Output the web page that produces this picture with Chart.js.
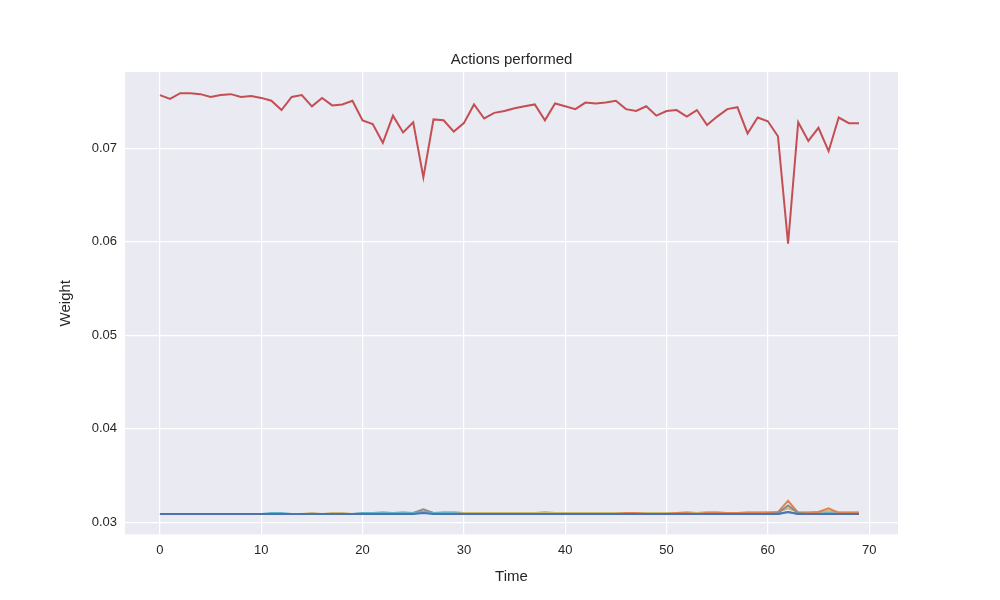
<!DOCTYPE html>
<html>
<head>
<meta charset="utf-8">
<script src="https://cdn.jsdelivr.net/npm/chart.js@4"></script>
<style>
  body { margin: 0; background: #fff; }
  #wrap { width: 1000px; height: 600px; }
</style>
</head>
<body>
<div id="wrap"><canvas id="c" width="1000" height="600"></canvas></div>
<script>
const steps = Array.from({ length: 70 }, (_, i) => i);

const xTicks = [0, 10, 20, 30, 40, 50, 60, 70];
const yTicks = [0.03, 0.04, 0.05, 0.06, 0.07];

// red series (the top one)
const redValues = [
  0.0757, 0.0753, 0.0759, 0.0759, 0.0758, 0.0755, 0.0757, 0.0758, 0.0755, 0.0756,
  0.0754, 0.0751, 0.0741, 0.0755, 0.0757, 0.0745, 0.0754, 0.0746, 0.0747, 0.0751,
  0.0730, 0.0726, 0.0706, 0.0735, 0.0717, 0.0728, 0.0669, 0.0731, 0.0730, 0.0718,
  0.0727, 0.0747, 0.0732, 0.0738, 0.0740, 0.0743, 0.0745, 0.0747, 0.0730, 0.0748,
  0.0745, 0.0742, 0.0749, 0.0748, 0.0749, 0.0751, 0.0742, 0.0740, 0.0745, 0.0735,
  0.0740, 0.0741, 0.0734, 0.0741, 0.0725, 0.0734, 0.0742, 0.0744, 0.0716, 0.0733,
  0.0729, 0.0713, 0.0598, 0.0728, 0.0708, 0.0722, 0.0697, 0.0733, 0.0727, 0.0727
];

// low series, all hugging 0.0309
const oliveValues = [
  0.0309, 0.0309, 0.0309, 0.0309, 0.0309, 0.0309, 0.0309, 0.0309, 0.0309, 0.0309,
  0.0309, 0.0309, 0.0309, 0.0309, 0.0309, 0.0310, 0.0309, 0.0310, 0.0310, 0.0309,
  0.0310, 0.0310, 0.0311, 0.0310, 0.0311, 0.0310, 0.0311, 0.0310, 0.0311, 0.0311,
  0.0310, 0.0310, 0.0310, 0.0310, 0.0310, 0.0310, 0.0310, 0.0310, 0.0311, 0.0310,
  0.0310, 0.0310, 0.0310, 0.0310, 0.0310, 0.0310, 0.0310, 0.0310, 0.0310, 0.0310,
  0.0310, 0.0310, 0.0311, 0.0310, 0.0311, 0.0311, 0.0310, 0.0310, 0.0311, 0.0311,
  0.0311, 0.0311, 0.0315, 0.0311, 0.0311, 0.0311, 0.0312, 0.0311, 0.0311, 0.0311
];
const orangeValues = [
  0.0309, 0.0309, 0.0309, 0.0309, 0.0309, 0.0309, 0.0309, 0.0309, 0.0309, 0.0309,
  0.0309, 0.0309, 0.0309, 0.0309, 0.0309, 0.0309, 0.0309, 0.0309, 0.0309, 0.0309,
  0.0309, 0.0310, 0.0310, 0.0310, 0.0310, 0.0310, 0.0311, 0.0310, 0.0310, 0.0310,
  0.0309, 0.0309, 0.0309, 0.0309, 0.0309, 0.0309, 0.0309, 0.0309, 0.0309, 0.0309,
  0.0309, 0.0309, 0.0309, 0.0309, 0.0309, 0.0309, 0.0310, 0.0310, 0.0309, 0.0309,
  0.0309, 0.0310, 0.0310, 0.0309, 0.0310, 0.0310, 0.0310, 0.0310, 0.0310, 0.0310,
  0.0310, 0.0311, 0.0323, 0.0310, 0.0310, 0.0311, 0.0315, 0.0310, 0.0310, 0.0310
];
const grayValues = [
  0.0309, 0.0309, 0.0309, 0.0309, 0.0309, 0.0309, 0.0309, 0.0309, 0.0309, 0.0309,
  0.0309, 0.0309, 0.0309, 0.0309, 0.0309, 0.0309, 0.0309, 0.0309, 0.0309, 0.0309,
  0.0309, 0.0309, 0.0309, 0.0309, 0.0309, 0.0310, 0.0314, 0.0310, 0.0309, 0.0309,
  0.0309, 0.0309, 0.0309, 0.0309, 0.0309, 0.0309, 0.0309, 0.0309, 0.0309, 0.0309,
  0.0309, 0.0309, 0.0309, 0.0309, 0.0309, 0.0309, 0.0309, 0.0309, 0.0309, 0.0309,
  0.0309, 0.0309, 0.0309, 0.0309, 0.0309, 0.0309, 0.0309, 0.0309, 0.0309, 0.0309,
  0.0309, 0.0310, 0.0318, 0.0310, 0.0309, 0.0309, 0.0310, 0.0309, 0.0309, 0.0309
];
const cyanValues = [
  0.0309, 0.0309, 0.0309, 0.0309, 0.0309, 0.0309, 0.0309, 0.0309, 0.0309, 0.0309,
  0.0309, 0.0310, 0.0310, 0.0309, 0.0309, 0.0309, 0.0309, 0.0309, 0.0309, 0.0309,
  0.0310, 0.0310, 0.0310, 0.0310, 0.0310, 0.0310, 0.0311, 0.0310, 0.0310, 0.0310,
  0.0309, 0.0309, 0.0309, 0.0309, 0.0309, 0.0309, 0.0309, 0.0309, 0.0309, 0.0309,
  0.0309, 0.0309, 0.0309, 0.0309, 0.0309, 0.0309, 0.0309, 0.0309, 0.0309, 0.0309,
  0.0309, 0.0309, 0.0309, 0.0309, 0.0309, 0.0309, 0.0309, 0.0309, 0.0309, 0.0309,
  0.0309, 0.0309, 0.0311, 0.0309, 0.0309, 0.0309, 0.0310, 0.0309, 0.0309, 0.0309
];
const blueValues = [
  0.0309, 0.0309, 0.0309, 0.0309, 0.0309, 0.0309, 0.0309, 0.0309, 0.0309, 0.0309,
  0.0309, 0.0309, 0.0309, 0.0309, 0.0309, 0.0309, 0.0309, 0.0309, 0.0309, 0.0309,
  0.0309, 0.0309, 0.0309, 0.0309, 0.0309, 0.0309, 0.0310, 0.0309, 0.0309, 0.0309,
  0.0309, 0.0309, 0.0309, 0.0309, 0.0309, 0.0309, 0.0309, 0.0309, 0.0309, 0.0309,
  0.0309, 0.0309, 0.0309, 0.0309, 0.0309, 0.0309, 0.0309, 0.0309, 0.0309, 0.0309,
  0.0309, 0.0309, 0.0309, 0.0309, 0.0309, 0.0309, 0.0309, 0.0309, 0.0309, 0.0309,
  0.0309, 0.0309, 0.0311, 0.0309, 0.0309, 0.0309, 0.0309, 0.0309, 0.0309, 0.0309
];

// first dataset is drawn on top in Chart.js
const seriesList = [
  { data: redValues, color: "#c44e52" },
  { data: blueValues, color: "#4c72b0" },
  { data: cyanValues, color: "#64b5cd" },
  { data: grayValues, color: "#8c8c8c" },
  { data: orangeValues, color: "#dd8452" },
  { data: oliveValues, color: "#ccb974" }
];

const FONT = "'Liberation Sans', Arial, sans-serif";
const TEXT = "#262626";

const plotBg = {
  id: "plotBg",
  beforeDraw(chart) {
    const a = chart.chartArea;
    const ctx = chart.ctx;
    ctx.save();
    ctx.fillStyle = "#eaeaf2";
    ctx.fillRect(a.left, a.top, a.right - a.left, a.bottom - a.top);
    ctx.restore();
  },
  afterDraw(chart) {
    const a = chart.chartArea;
    const ctx = chart.ctx;
    ctx.save();
    ctx.fillStyle = TEXT;
    ctx.font = "15px " + FONT;
    ctx.textAlign = "center";
    ctx.textBaseline = "alphabetic";
    ctx.fillText("Actions performed", (a.left + a.right) / 2, 64);
    ctx.restore();
  }
};

new Chart(document.getElementById("c"), {
  type: "line",
  data: {
    datasets: seriesList.map((s) => ({
      data: s.data.map((v, i) => ({ x: steps[i], y: v })),
      borderColor: s.color,
      borderWidth: 2,
      pointRadius: 0,
      tension: 0
    }))
  },
  options: {
    responsive: false,
    animation: false,
    layout: { padding: { left: 57, right: 102, top: 72, bottom: 0 } },
    plugins: {
      legend: { display: false },
      tooltip: { enabled: false },
      title: { display: false }
    },
    scales: {
      x: {
        type: "linear",
        min: -3.45,
        max: 72.85,
        afterBuildTicks: (ax) => { ax.ticks = xTicks.map((v) => ({ value: v })); },
        grid: { color: "#ffffff", lineWidth: 1.2, drawTicks: false },
        border: { display: false },
        ticks: { color: TEXT, font: { family: FONT, size: 13 }, padding: 8 },
        title: { display: true, text: "Time", color: TEXT, font: { family: FONT, size: 15 }, padding: { top: 2, bottom: 14 } }
      },
      y: {
        min: 0.02871,
        max: 0.07817,
        afterBuildTicks: (ax) => { ax.ticks = yTicks.map((v) => ({ value: v })); },
        afterFit: (ax) => { ax.width = 68; },
        grid: { color: "#ffffff", lineWidth: 1.2, drawTicks: false },
        border: { display: false },
        ticks: { color: TEXT, font: { family: FONT, size: 13 }, padding: 8, callback: (v) => v.toFixed(2) },
        title: { display: true, text: "Weight", color: TEXT, font: { family: FONT, size: 15 }, padding: { top: 0, bottom: 0 } }
      }
    }
  },
  plugins: [plotBg]
});
</script>
</body>
</html>
